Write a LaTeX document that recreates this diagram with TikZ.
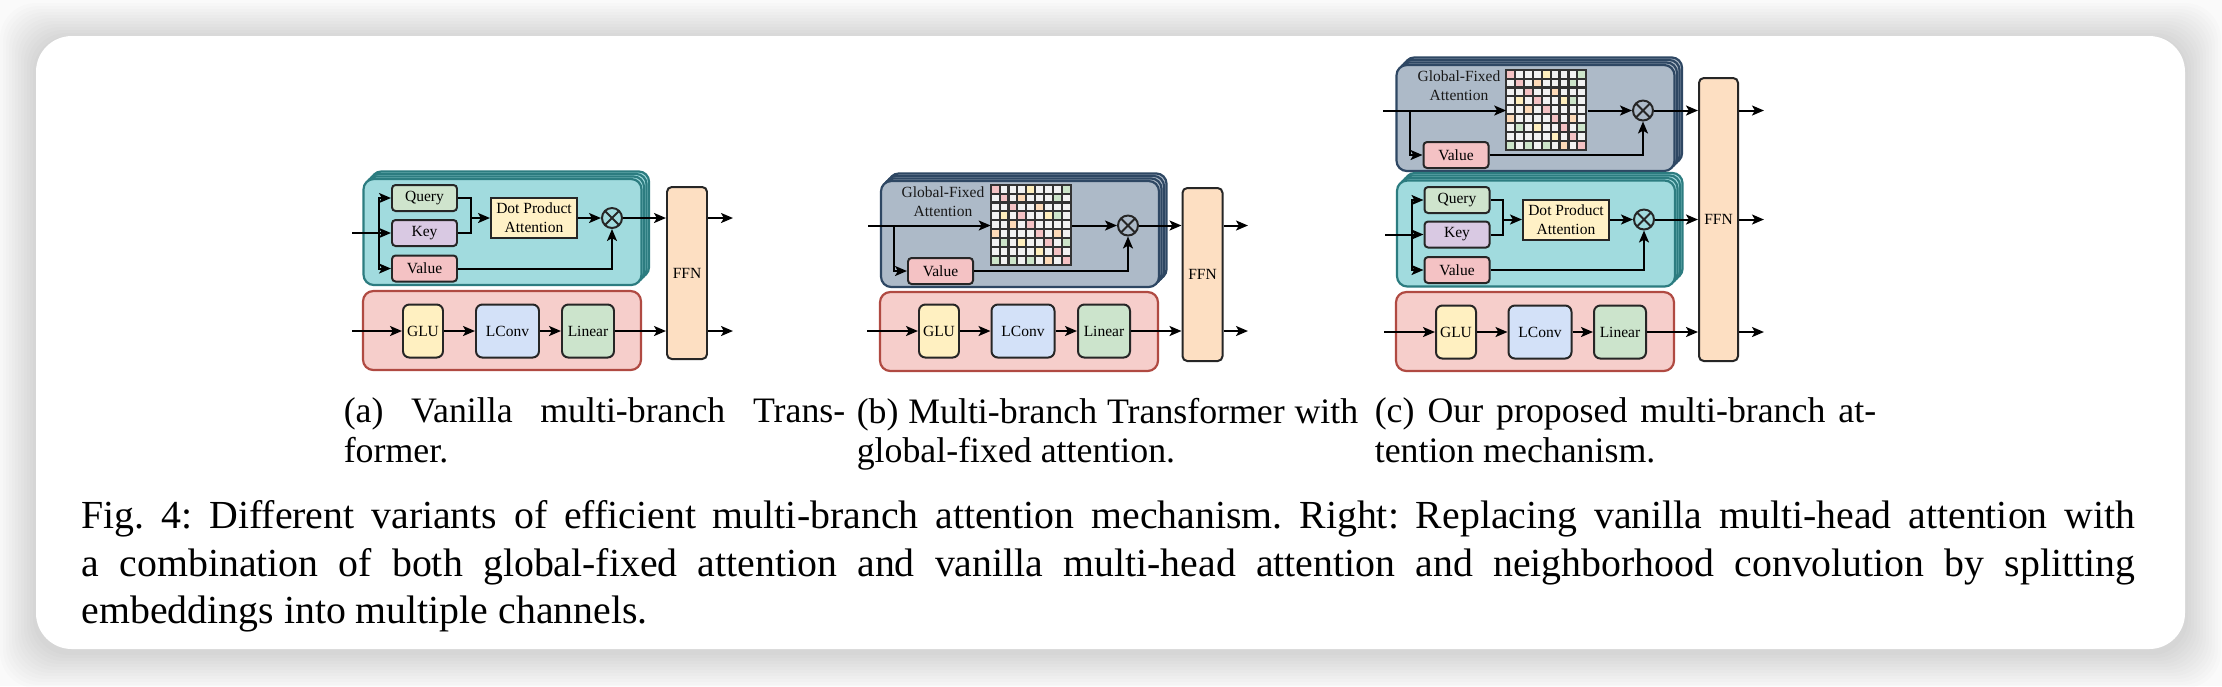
\documentclass[tikz,border=0pt]{standalone}
\usepackage{fontspec}
\setmainfont{Liberation Serif}
\usetikzlibrary{arrows.meta,shadows}

\newdimen\pxu
\pxu=0.2513pt

\definecolor{pagebg}{HTML}{FAFAFA}
\definecolor{tealbg}{HTML}{A1DBDE}
\definecolor{tealdk}{HTML}{2C7C80}
\definecolor{gfabg}{HTML}{ADBAC8}
\definecolor{gfadk}{HTML}{2E4763}
\definecolor{convbg}{HTML}{F6CECB}
\definecolor{convdk}{HTML}{B04A42}
\definecolor{qfill}{HTML}{CFE4CD}
\definecolor{kfill}{HTML}{D9C9E3}
\definecolor{vfill}{HTML}{F4C2C4}
\definecolor{dpafill}{HTML}{FFF1C6}
\definecolor{glufill}{HTML}{FFF0C1}
\definecolor{lcfill}{HTML}{D3E1F8}
\definecolor{linfill}{HTML}{CCE4CC}
\definecolor{ffnfill}{HTML}{FDDFC2}
\definecolor{mwhite}{HTML}{F2F2F2}
\definecolor{mpink}{HTML}{F4C2C4}
\definecolor{myel}{HTML}{FFEFBE}
\definecolor{mgrn}{HTML}{CDE5CA}
\definecolor{mpch}{HTML}{FDDAB8}

% 9x9 global-fixed attention map, drawn over an empty node
\newcommand{\fixedmap}[1]{%
  \begin{scope}[shift={(#1.north west)}]
    \fill[mwhite] (0,0) rectangle (80,80);
    \foreach \r/\c/\cc in {1/1/mpink,1/5/myel,1/9/mgrn,2/2/mpink,2/4/mpch,2/8/mgrn,
        3/3/mpink,3/6/mpch,4/2/myel,4/4/mpink,4/7/myel,4/8/mgrn,5/3/mpch,5/5/mpink,
        6/1/mpch,6/6/mpink,6/8/mpch,7/2/mgrn,7/4/myel,7/7/mpink,7/9/mgrn,
        8/6/myel,8/8/mpink,9/1/mgrn,9/3/mgrn,9/5/mgrn,9/7/mpch,9/9/mpink}
      \fill[\cc] ({(\c-1)*80/9},{(\r-1)*80/9}) rectangle ++(80/9,80/9);
    \foreach \i in {0,...,9} {
      \draw[gridln] ({\i*80/9},0) -- ({\i*80/9},80);
      \draw[gridln] (0,{\i*80/9}) -- (80,{\i*80/9});
    }
  \end{scope}}

\begin{document}
\begin{tikzpicture}[
  x=0.2513pt, y=-0.2513pt,
  font=\fontsize{3.9}{4.7}\selectfont,
  every node/.style={inner sep=0pt},
  wire/.style={line width=0.5pt},
  arr/.style={wire, -{Stealth[length=3pt,width=2.5pt,inset=0.7pt]}},
  gridln/.style={line width=0.55pt, black!80, line cap=rect},
  opbox/.style={draw=black!85, line width=0.5pt, rounded corners=0.9pt, align=center},
  qkv/.style={opbox, minimum width=65*\pxu, minimum height=26*\pxu},
  convop/.style={opbox, rounded corners=1.6pt, minimum height=53*\pxu},
  ffn/.style={opbox, fill=ffnfill, rounded corners=1.2pt, minimum width=40*\pxu},
  mulop/.style={draw=black!85, line width=0.5pt, circle, minimum size=20*\pxu,
    path picture={\draw[line width=0.5pt, black!85]
      (path picture bounding box.north west) -- (path picture bounding box.south east)
      (path picture bounding box.north east) -- (path picture bounding box.south west);}},
  stackof/.style 2 args={draw=#2, fill=#1, line width=0.55pt, rounded corners=2.6pt,
    minimum width=278*\pxu, minimum height=106*\pxu,
    copy shadow={shadow xshift=1.9pt, shadow yshift=1.9pt, fill=#1, draw=#2, line width=0.55pt},
    copy shadow={shadow xshift=1.27pt, shadow yshift=1.27pt, fill=#1, draw=#2, line width=0.55pt},
    copy shadow={shadow xshift=0.63pt, shadow yshift=0.63pt, fill=#1, draw=#2, line width=0.55pt}},
  attnbox/.style={stackof={tealbg}{tealdk}},
  gfabox/.style={stackof={gfabg}{gfadk}},
  convbox/.style={draw=convdk, fill=convbg, line width=0.55pt, rounded corners=2.6pt,
    minimum width=278*\pxu, minimum height=79*\pxu},
  subcap/.style={anchor=north west, text width=126pt, align=justify,
    font=\fontsize{9}{10}\selectfont}
]
\useasboundingbox (0,0) rectangle (2222,686);
\fill[pagebg] (0,0) rectangle (2222,686);
% soft card shadow
\foreach \k in {1,...,12}
  \fill[black, opacity=0.01, rounded corners=9pt] ({36-3*\k},{39-3*\k}) rectangle ({2185+3*\k},{652+3*\k});
\fill[white, rounded corners=9pt] (36,36) rectangle (2185,649);

% (a) vanilla multi-branch
\node[attnbox] (a-attn) at (502.5,232) {};
\node[convbox] (a-conv) at (502,330.5) {};
\node[qkv, fill=qfill] (a-q) at (424.5,198) {Query};
\node[qkv, fill=kfill] (a-k) at (424.5,233) {Key};
\node[qkv, fill=vfill] (a-v) at (424.5,268.5) {Value};
\node[opbox, fill=dpafill, rounded corners=0pt, minimum width=86*\pxu, minimum height=40*\pxu] (a-dpa) at (534,218) {Dot Product\\Attention};
\node[mulop] (a-mul) at (612,218) {};
\node[convop, fill=glufill, minimum width=40*\pxu] (a-glu) at (423,331) {GLU};
\node[convop, fill=lcfill, minimum width=63*\pxu] (a-lconv) at (507.5,331) {LConv};
\node[convop, fill=linfill, minimum width=52*\pxu] (a-lin) at (588,331) {Linear};
\node[ffn, minimum height=172*\pxu] (a-ffn) at (687,273) {FFN};
\coordinate (a-in) at (352,233);
\coordinate (a-br) at (379,233);
\coordinate (a-mg) at (471,218);
\coordinate (a-cin) at (352,331);
\coordinate (a-o1) at (733,218);
\coordinate (a-o2) at (733,331);
\draw[arr] (a-in) -- (a-k);
\draw[arr] (a-br) |- (a-q);
\draw[arr] (a-br) |- (a-v);
\draw[wire] (a-q) -| (a-mg);
\draw[wire] (a-k) -| (a-mg);
\draw[arr] (a-mg) -- (a-dpa);
\draw[arr] (a-dpa) -- (a-mul);
\draw[arr] (a-v) -| (a-mul);
\draw[arr] (a-mul) -- (a-mul -| a-ffn.west);
\draw[arr] (a-ffn.east |- a-mul) -- (a-o1);
\draw[arr] (a-cin) -- (a-glu);
\draw[arr] (a-glu) -- (a-lconv);
\draw[arr] (a-lconv) -- (a-lin);
\draw[arr] (a-lin) -- (a-lin -| a-ffn.west);
\draw[arr] (a-ffn.east |- a-lin) -- (a-o2);

% (b) global-fixed attention
\node[gfabox] (b-gfa) at (1020,234) {};
\node[convbox] (b-conv) at (1019,331.5) {};
\node[align=center, text=black!90] (b-lbl) at (943,201.5) {Global-Fixed\\Attention};
\node[minimum size=80*\pxu] (b-mat) at (1031.5,225.5) {};
\fixedmap{b-mat}
\node[qkv, fill=vfill] (b-v) at (940.5,271) {Value};
\node[mulop] (b-mul) at (1128,225.5) {};
\node[convop, fill=glufill, minimum width=40*\pxu] (b-glu) at (939,331) {GLU};
\node[convop, fill=lcfill, minimum width=63*\pxu] (b-lconv) at (1023,331) {LConv};
\node[convop, fill=linfill, minimum width=52*\pxu] (b-lin) at (1104,331) {Linear};
\node[ffn, minimum height=173*\pxu] (b-ffn) at (1202.5,274.5) {FFN};
\coordinate (b-in) at (868,225.5);
\coordinate (b-br) at (894,225.5);
\coordinate (b-cin) at (867,331);
\coordinate (b-o1) at (1248,225.5);
\coordinate (b-o2) at (1248,331);
\draw[arr] (b-in) -- (b-mat);
\draw[arr] (b-br) |- (b-v);
\draw[arr] (b-mat) -- (b-mul);
\draw[arr] (b-v) -| (b-mul);
\draw[arr] (b-mul) -- (b-mul -| b-ffn.west);
\draw[arr] (b-ffn.east |- b-mul) -- (b-o1);
\draw[arr] (b-cin) -- (b-glu);
\draw[arr] (b-glu) -- (b-lconv);
\draw[arr] (b-lconv) -- (b-lin);
\draw[arr] (b-lin) -- (b-lin -| b-ffn.west);
\draw[arr] (b-ffn.east |- b-lin) -- (b-o2);

% (c) proposed: global-fixed + vanilla + conv
\node[gfabox] (c-gfa) at (1535.5,118) {};
\node[attnbox] (c-attn) at (1536,233.5) {};
\node[convbox] (c-conv) at (1535,331.5) {};
\node[align=center, text=black!90] (c-lbl) at (1459,86) {Global-Fixed\\Attention};
\node[minimum size=80*\pxu] (c-mat) at (1547,110.5) {};
\fixedmap{c-mat}
\node[qkv, fill=vfill] (c-v1) at (1456,155) {Value};
\node[mulop] (c-mul1) at (1643,110.5) {};
\node[qkv, fill=qfill] (c-q) at (1457,200) {Query};
\node[qkv, fill=kfill] (c-k) at (1457,234.5) {Key};
\node[qkv, fill=vfill] (c-v2) at (1457,270) {Value};
\node[opbox, fill=dpafill, rounded corners=0pt, minimum width=86*\pxu, minimum height=40*\pxu] (c-dpa) at (1566,219.5) {Dot Product\\Attention};
\node[mulop] (c-mul2) at (1644,219.5) {};
\node[convop, fill=glufill, minimum width=40*\pxu] (c-glu) at (1456,332) {GLU};
\node[convop, fill=lcfill, minimum width=63*\pxu] (c-lconv) at (1540,332) {LConv};
\node[convop, fill=linfill, minimum width=52*\pxu] (c-lin) at (1620,332) {Linear};
\node[ffn, minimum width=39*\pxu, minimum height=283*\pxu] (c-ffn) at (1718.5,219.5) {FFN};
\coordinate (c-in1) at (1383,110.5);
\coordinate (c-br1) at (1410,110.5);
\coordinate (c-in2) at (1385,234.5);
\coordinate (c-br2) at (1412,234.5);
\coordinate (c-mg) at (1503,219.5);
\coordinate (c-cin) at (1384,332);
\coordinate (c-o1) at (1764,110.5);
\coordinate (c-o2) at (1764,219.5);
\coordinate (c-o3) at (1764,332);
\draw[arr] (c-in1) -- (c-mat);
\draw[arr] (c-br1) |- (c-v1);
\draw[arr] (c-mat) -- (c-mul1);
\draw[arr] (c-v1) -| (c-mul1);
\draw[arr] (c-mul1) -- (c-mul1 -| c-ffn.west);
\draw[arr] (c-ffn.east |- c-mul1) -- (c-o1);
\draw[arr] (c-in2) -- (c-k);
\draw[arr] (c-br2) |- (c-q);
\draw[arr] (c-br2) |- (c-v2);
\draw[wire] (c-q) -| (c-mg);
\draw[wire] (c-k) -| (c-mg);
\draw[arr] (c-mg) -- (c-dpa);
\draw[arr] (c-dpa) -- (c-mul2);
\draw[arr] (c-v2) -| (c-mul2);
\draw[arr] (c-mul2) -- (c-mul2 -| c-ffn.west);
\draw[arr] (c-ffn.east |- c-mul2) -- (c-o2);
\draw[arr] (c-cin) -- (c-glu);
\draw[arr] (c-glu) -- (c-lconv);
\draw[arr] (c-lconv) -- (c-lin);
\draw[arr] (c-lin) -- (c-lin -| c-ffn.west);
\draw[arr] (c-ffn.east |- c-lin) -- (c-o3);

% captions
\node[subcap] (cap-a) at (343,397) {\noindent(a) Vanilla multi-branch Trans-\linebreak former.};
\node[subcap] (cap-b) at (856,397) {\noindent(b) Multi-branch Transformer with\linebreak global-fixed attention.};
\node[subcap] (cap-c) at (1374,397) {\noindent(c) Our proposed multi-branch at-\linebreak tention mechanism.};
\node[anchor=north west, text width=516pt, align=justify, font=\fontsize{10}{12}\selectfont] (caption) at (81,499.5)
  {\noindent\frenchspacing Fig.~4: Different variants of efficient multi-branch attention mechanism. Right: Replacing vanilla multi-head attention with\linebreak
   a combination of both global-fixed attention and vanilla multi-head attention and neighborhood convolution by splitting\linebreak
   embeddings into multiple channels.};
\end{tikzpicture}
\end{document}
